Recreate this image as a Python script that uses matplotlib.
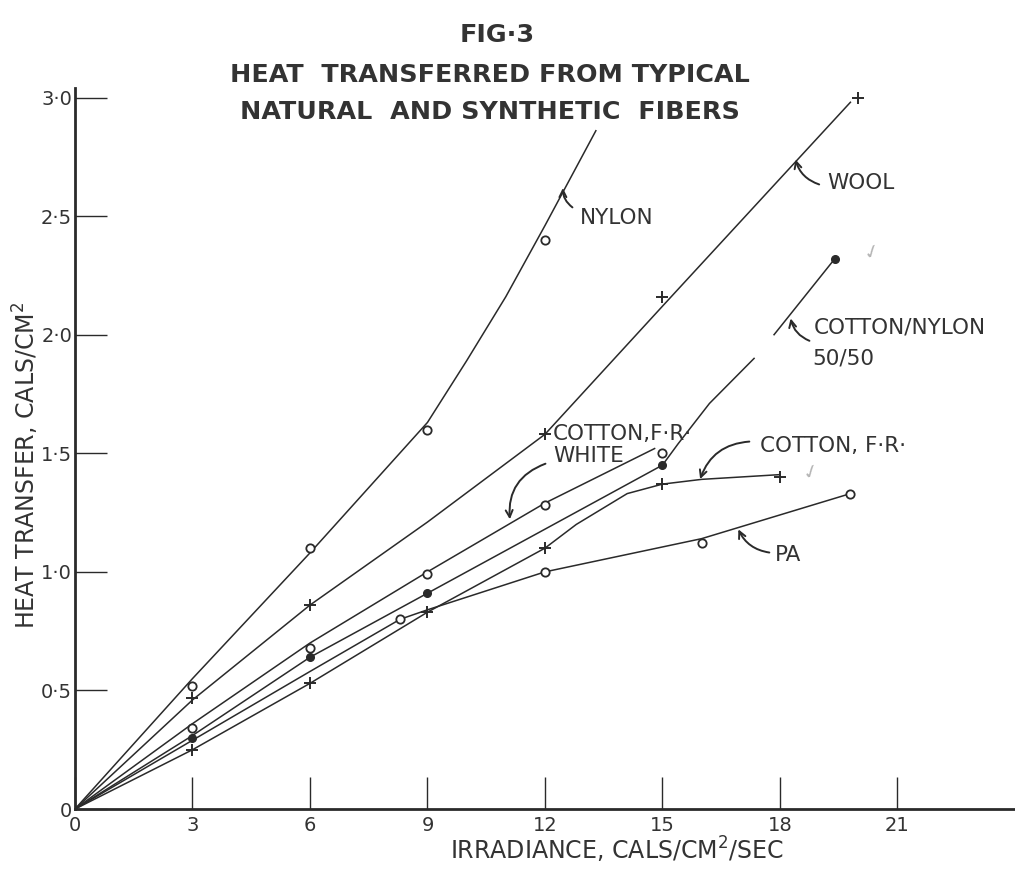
import numpy as np
import matplotlib.pyplot as plt

nylon_x = [3, 6, 9, 12]
nylon_y = [0.52, 1.10, 1.60, 2.40]
wool_x = [3, 6, 12, 15, 20]
wool_y = [0.47, 0.86, 1.58, 2.16, 3.00]
white_x = [3, 6, 9, 12, 15]
white_y = [0.34, 0.68, 0.99, 1.28, 1.50]
blend_x = [3, 6, 9, 15, 19.4]
blend_y = [0.30, 0.64, 0.91, 1.45, 2.32]
cotfr_x = [3, 6, 9, 12, 15, 18]
cotfr_y = [0.25, 0.53, 0.83, 1.10, 1.37, 1.40]
pa_x = [8.3, 12, 16, 19.8]
pa_y = [0.80, 1.00, 1.12, 1.33]

# hand drawn curves through the points
nylon_cx = [0, 3, 6, 9, 10, 11, 12, 13.3]
nylon_cy = [0, 0.55, 1.08, 1.63, 1.89, 2.16, 2.46, 2.86]
wool_cx = [0, 3, 6, 9, 12, 15, 19.8]
wool_cy = [0, 0.46, 0.86, 1.21, 1.58, 2.12, 2.98]
white_cx = [0, 3, 6, 9, 12, 14.8]
white_cy = [0, 0.36, 0.70, 1.00, 1.29, 1.52]
blend_cx = [0, 3, 6, 9, 12, 15, 15.4, 16.2, 17.34]
blend_cy = [0, 0.31, 0.64, 0.91, 1.18, 1.45, 1.54, 1.71, 1.90]
blend_top_cx = [17.85, 19.4]
blend_top_cy = [2.00, 2.32]
cotfr_cx = [0, 3, 6, 9, 12, 12.8, 14.1, 15, 16, 18]
cotfr_cy = [0, 0.25, 0.53, 0.83, 1.10, 1.20, 1.33, 1.37, 1.39, 1.41]
pa_cx = [0, 3, 6, 8.3, 9, 12, 16, 19.8]
pa_cy = [0, 0.29, 0.58, 0.80, 0.84, 1.00, 1.14, 1.33]

x_ticks = [0, 3, 6, 9, 12, 15, 18, 21]
y_ticks = [0, 0.5, 1.0, 1.5, 2.0, 2.5, 3.0]
y_labels = ["0", "0·5", "1·0", "1·5", "2·0", "2·5", "3·0"]

ink = "#2a2a2a"
txt = "#333333"

fig = plt.figure(figsize=(10.15, 8.69), dpi=100)
ax = fig.add_axes([0.0739, 0.069, 0.926, 0.8297])
ax.set_xlim(0, 24.0)
ax.set_ylim(0, 3.04)

for s in ["top", "right"]:
    ax.spines[s].set_visible(False)
for s in ["left", "bottom"]:
    ax.spines[s].set_linewidth(2.0)
    ax.spines[s].set_color(ink)

ax.set_xticks(x_ticks)
ax.set_xticklabels([str(v) for v in x_ticks])
ax.set_yticks(y_ticks)
ax.set_yticklabels(y_labels)
ax.tick_params(axis="x", direction="in", length=23, width=1.0, color=ink,
               labelsize=14, labelcolor=txt, pad=5)
ax.tick_params(axis="y", direction="in", length=23, width=1.0, color=ink,
               labelsize=14, labelcolor=txt, pad=2)
ax.yaxis.get_major_ticks()[1].tick1line.set_linestyle((0, (4, 3)))

lw = 1.1
ax.plot(nylon_cx, nylon_cy, color=ink, lw=lw)
ax.plot(wool_cx, wool_cy, color=ink, lw=lw)
ax.plot(white_cx, white_cy, color=ink, lw=lw)
ax.plot(blend_cx, blend_cy, color=ink, lw=lw)
ax.plot(blend_top_cx, blend_top_cy, color=ink, lw=lw)
ax.plot(cotfr_cx, cotfr_cy, color=ink, lw=lw)
ax.plot(pa_cx, pa_cy, color=ink, lw=lw)

ring = dict(ls="none", marker="o", ms=6, mfc="white", mec=ink, mew=1.3)
plus = dict(ls="none", marker="+", ms=9, mec=ink, mew=1.4)
dot = dict(ls="none", marker="o", ms=5.5, mfc=ink, mec=ink)
ax.plot(nylon_x, nylon_y, **ring)
ax.plot(wool_x, wool_y, **plus)
ax.plot(white_x, white_y, **ring)
ax.plot(blend_x, blend_y, **dot)
ax.plot(cotfr_x, cotfr_y, **plus)
ax.plot(pa_x, pa_y, **ring)

arrow = dict(arrowstyle="->,head_length=0.5,head_width=0.25", color=ink, lw=1.4)


def pointer(xy, xytext, rad):
    ax.annotate("", xy=xy, xytext=xytext,
                arrowprops=dict(connectionstyle=f"arc3,rad={rad}", **arrow))


fs = 15.5
ax.text(12.88, 2.49, "NYLON", fontsize=fs, color=txt, va="center")
pointer((12.46, 2.63), (12.76, 2.53), -0.3)
ax.text(19.2, 2.64, "WOOL", fontsize=fs, color=txt, va="center")
pointer((18.38, 2.75), (19.07, 2.63), -0.3)
ax.text(18.87, 2.03, "COTTON/NYLON", fontsize=fs, color=txt, va="center")
ax.text(18.82, 1.90, "50/50", fontsize=fs, color=txt, va="center")
pointer((18.26, 2.08), (18.82, 1.97), -0.3)
ax.text(12.2, 1.58, "COTTON,F·R·", fontsize=fs, color=txt, va="center")
ax.text(12.2, 1.49, "WHITE", fontsize=fs, color=txt, va="center")
pointer((11.11, 1.21), (12.08, 1.46), 0.4)
ax.text(17.49, 1.53, "COTTON, F·R·", fontsize=fs, color=txt, va="center")
pointer((15.94, 1.38), (17.29, 1.55), 0.35)
ax.text(17.87, 1.07, "PA", fontsize=fs, color=txt, va="center")
pointer((16.91, 1.19), (17.8, 1.08), -0.3)

# pencil check marks
ax.text(18.5, 1.42, "✓", fontsize=14, color="#b5b5b5", va="center", rotation=20)
ax.text(20.05, 2.35, "✓", fontsize=14, color="#b5b5b5", va="center", rotation=20)

title_fs = 18.3
fig.text(0.49, 0.960, "FIG·3", ha="center", va="center", fontsize=title_fs,
         fontweight="bold", color=txt)
fig.text(0.483, 0.914, "HEAT  TRANSFERRED FROM TYPICAL", ha="center",
         va="center", fontsize=title_fs, fontweight="bold", color=txt)
fig.text(0.483, 0.871, "NATURAL  AND SYNTHETIC  FIBERS", ha="center",
         va="center", fontsize=title_fs, fontweight="bold", color=txt)

fig.text(0.026, 0.465, "HEAT TRANSFER, CALS/CM$^2$", rotation=90,
         ha="center", va="center", fontsize=17, color=txt)
fig.text(0.608, 0.022, "IRRADIANCE, CALS/CM$^2$/SEC", ha="center",
         va="center", fontsize=17, color=txt)

fig.savefig("out.png", dpi=100)
